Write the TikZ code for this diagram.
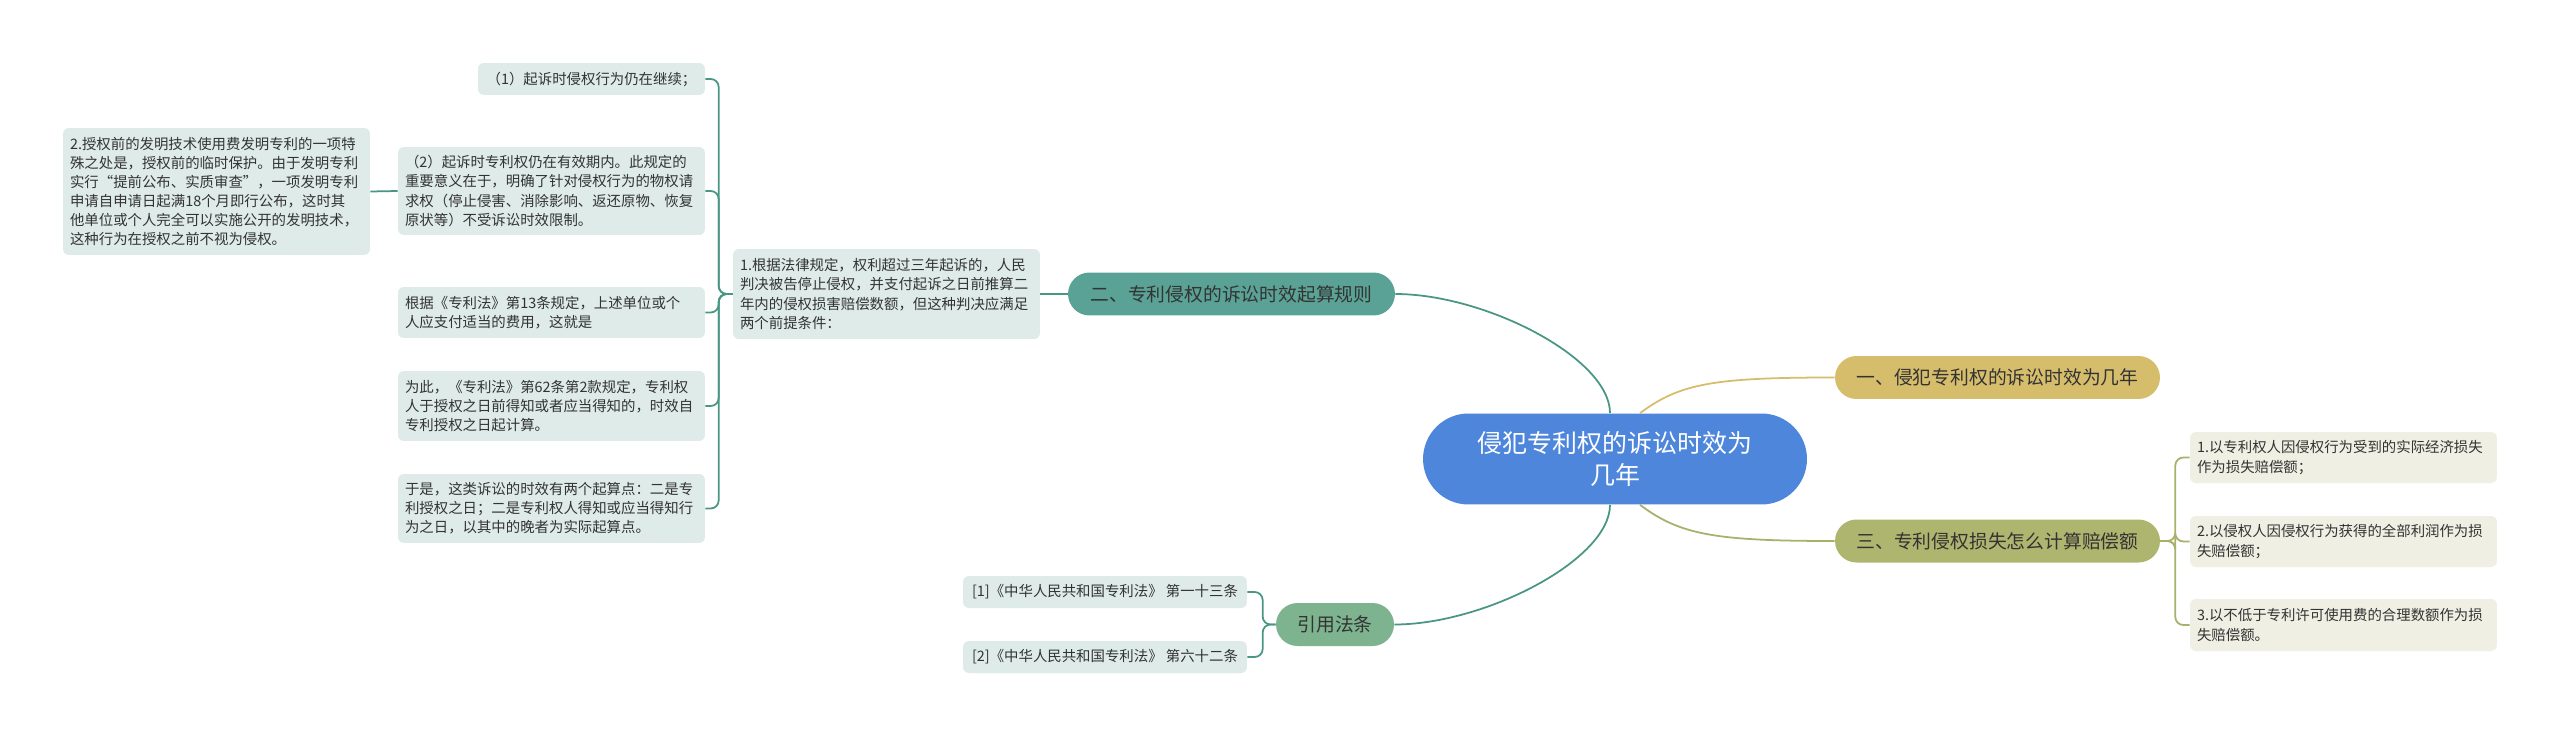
\documentclass[tikz,border=0pt]{standalone}
\usepackage{fontspec}
\newfontfamily\cjk{Noto Sans CJK SC}
\definecolor{rootblue}{HTML}{4D86DB}
\definecolor{tealnode}{HTML}{5AA295}
\definecolor{tealline}{HTML}{4A9684}
\definecolor{refnode}{HTML}{7DB38F}
\definecolor{goldnode}{HTML}{D6BD6C}
\definecolor{olivenode}{HTML}{AEB56F}
\definecolor{oliveline}{HTML}{A9B06A}
\definecolor{leafteal}{HTML}{DEEBE8}
\definecolor{leafolive}{HTML}{EFEFE3}
\definecolor{txt}{HTML}{333333}

\begin{document}
\begin{tikzpicture}[
  x=0.02cm, y=-0.02cm,
  leaf/.style={rounded corners=0.12cm, align=left, text=txt, inner xsep=0.14cm,
    text width=5.86cm, font=\cjk\fontsize{8.2}{10.9}\selectfont},
  leafL/.style={leaf, fill=leafteal},
  leafR/.style={leaf, fill=leafolive},
  cite/.style={leaf, fill=leafteal, text width=, minimum width=5.68cm, minimum height=0.64cm, align=center},
  topic/.style={rounded corners=0.43cm, minimum height=0.86cm, text=txt, font=\cjk\fontsize{10.7}{13}\selectfont},
  link/.style={line width=1pt, rounded corners=0.16cm}
]
  \useasboundingbox (0,0) rectangle (2560,737);
  \fill[white] (0,0) rectangle (2560,737);

  % centre
  \node[rounded corners=0.91cm, fill=rootblue, text=white, align=center,
    minimum width=7.68cm, minimum height=1.82cm,
    font=\cjk\fontsize{14.2}{18.7}\selectfont] (root) at (1615,459)
    {侵犯专利权的诉讼时效为\\几年};

  % main branches
  \node[topic, fill=tealnode, minimum width=6.54cm] (b2) at (1231.5,294) {二、专利侵权的诉讼时效起算规则};
  \node[topic, fill=goldnode, minimum width=6.5cm]  (b1) at (1997.5,377.5) {一、侵犯专利权的诉讼时效为几年};
  \node[topic, fill=olivenode, minimum width=6.5cm] (b3) at (1997.5,541) {三、专利侵权损失怎么计算赔偿额};
  \node[topic, fill=refnode, minimum width=2.36cm]  (ref) at (1335,624.5) {引用法条};

  % branch 2
  \node[leafL, minimum height=1.8cm] (cond) at (886.5,294)
    {1.根据法律规定，权利超过三年起诉的，人民\\判决被告停止侵权，并支付起诉之日前推算二\\年内的侵权损害赔偿数额，但这种判决应满足\\两个前提条件：};
  \node[leafL, text width=4.26cm, align=center, minimum height=0.64cm] (q1) at (591.5,79)
    {（1）起诉时侵权行为仍在继续；};
  \node[leafL, minimum height=1.76cm] (q2) at (551.5,191)
    {（2）起诉时专利权仍在有效期内。此规定的\\重要意义在于，明确了针对侵权行为的物权请\\求权（停止侵害、消除影响、返还原物、恢复\\原状等）不受诉讼时效限制。};
  \node[leafL, minimum height=2.54cm] (pre) at (216.5,191.5)
    {2.授权前的发明技术使用费发明专利的一项特\\殊之处是，授权前的临时保护。由于发明专利\\实行“提前公布、实质审查”，一项发明专利\\申请自申请日起满18个月即行公布，这时其\\他单位或个人完全可以实施公开的发明技术，\\这种行为在授权之前不视为侵权。};
  \node[leafL, minimum height=1.02cm] (law13) at (551.5,312.5)
    {根据《专利法》第13条规定，上述单位或个\\人应支付适当的费用，这就是};
  \node[leafL, minimum height=1.4cm] (law62) at (551.5,406)
    {为此，《专利法》第62条第2款规定，专利权\\人于授权之日前得知或者应当得知的，时效自\\专利授权之日起计算。};
  \node[leafL, minimum height=1.38cm] (start) at (551.5,508.5)
    {于是，这类诉讼的时效有两个起算点：二是专\\利授权之日；二是专利权人得知或应当得知行\\为之日，以其中的晚者为实际起算点。};

  % branch 3
  \node[leafR, minimum height=1.02cm] (r1) at (2343.5,457.5)
    {1.以专利权人因侵权行为受到的实际经济损失\\作为损失赔偿额；};
  \node[leafR, minimum height=1.02cm] (r2) at (2343.5,541.5)
    {2.以侵权人因侵权行为获得的全部利润作为损\\失赔偿额；};
  \node[leafR, minimum height=1.04cm] (r3) at (2343.5,625)
    {3.以不低于专利许可使用费的合理数额作为损\\失赔偿额。};

  % citations
  \node[cite] (c1) at (1105,592) {[1]《中华人民共和国专利法》 第一十三条};
  \node[cite] (c2) at (1105,657) {[2]《中华人民共和国专利法》 第六十二条};

  % connectors
  \draw[link, tealline] (b2.east) .. controls +(90,0) and +(0,-55) .. ([xshift=-0.1cm]root.north);
  \draw[link, tealline] (ref.east) .. controls +(90,0) and +(0,55) .. ([xshift=-0.1cm]root.south);
  \draw[link, goldnode] ([xshift=0.5cm]root.north) .. controls +(40,-30) and +(-120,0) .. (b1.west);
  \draw[link, oliveline] ([xshift=0.5cm]root.south) .. controls +(40,30) and +(-120,0) .. (b3.west);

  \draw[link, tealline] (cond.east) -- (b2.west);
  \draw[link, tealline] (q2.west) -- (pre.east);
  \foreach \kid in {q1,q2,law13,law62,start}
    \draw[link, tealline] (cond.west) -- ++(-14,0) |- (\kid.east);
  \foreach \kid in {r1,r2,r3}
    \draw[link, oliveline] (b3.east) -- ++(15,0) |- (\kid.west);
  \foreach \kid in {c1,c2}
    \draw[link, tealline] (ref.west) -- ++(-13,0) |- (\kid.east);
\end{tikzpicture}
\end{document}
